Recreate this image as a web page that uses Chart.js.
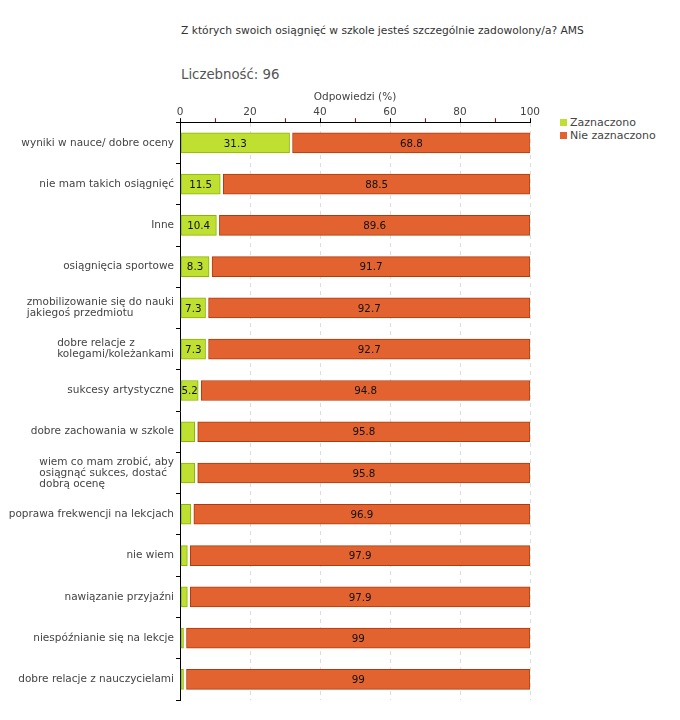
<!DOCTYPE html>
<html>
<head>
<meta charset="utf-8">
<script src="https://cdn.jsdelivr.net/npm/chart.js@4"></script>
<style>
    body { margin: 0; background: #fff; font-family: "DejaVu Sans", Verdana, sans-serif; }
    #wrap { position: relative; width: 680px; height: 720px; }
    #title { position: absolute; left: 181px; top: 24px; font-size: 10.7px; color: #333; }
    #count { position: absolute; left: 181px; top: 67px; font-size: 13.3px; color: #555; }
    #legend { position: absolute; left: 560px; top: 116px; font-size: 11px; color: #444; line-height: 13px; }
    #legend span { display: inline-block; width: 7px; height: 7px; margin-right: 3px; }
    canvas { position: absolute; left: 0; top: 0; }
</style>
</head>
<body>
<div id="wrap">
    <div id="title">Z których swoich osiągnięć w szkole jesteś szczególnie zadowolony/a? AMS</div>
    <div id="count">Liczebność: 96</div>
    <div id="legend">
        <div><span style="background:#bfe030"></span>Zaznaczono</div>
        <div><span style="background:#e2632f"></span>Nie zaznaczono</div>
    </div>
    <canvas id="chart" width="680" height="720"></canvas>
</div>
<script>
const categories = [
    "wyniki w nauce/ dobre oceny",
    "nie mam takich osiągnięć",
    "Inne",
    "osiągnięcia sportowe",
    ["zmobilizowanie się do nauki", "jakiegoś przedmiotu"],
    ["dobre relacje z", "kolegami/koleżankami"],
    "sukcesy artystyczne",
    "dobre zachowania w szkole",
    ["wiem co mam zrobić, aby", "osiągnąć sukces, dostać", "dobrą ocenę"],
    "poprawa frekwencji na lekcjach",
    "nie wiem",
    "nawiązanie przyjaźni",
    "niespóźnianie się na lekcje",
    "dobre relacje z nauczycielami"
];
const zaznaczono = [31.3, 11.5, 10.4, 8.3, 7.3, 7.3, 5.2, 4.2, 4.2, 3.1, 2.1, 2.1, 1.0, 1.0];
const nieZaznaczono = [68.8, 88.5, 89.6, 91.7, 92.7, 92.7, 94.8, 95.8, 95.8, 96.9, 97.9, 97.9, 99, 99];
const seriesNames = ["Zaznaczono", "Nie zaznaczono"];

const FONT = '"DejaVu Sans", Verdana, sans-serif';

// small white gap between the two stacked pieces
const barGap = {
    id: "barGap",
    beforeDatasetsDraw(chart) {
        const x = chart.scales.x;
        chart.getDatasetMeta(0).data.forEach((bar) => { bar.base = x.getPixelForValue(0) + 1; });
        chart.getDatasetMeta(1).data.forEach((bar, i) => { bar.base = x.getPixelForValue(zaznaczono[i]) + 3; });
    }
};

const barValues = {
    id: "barValues",
    afterDatasetsDraw(chart) {
        const ctx = chart.ctx;
        ctx.save();
        ctx.font = "10.3px " + FONT;
        ctx.fillStyle = "#111";
        ctx.textAlign = "center";
        ctx.textBaseline = "middle";
        chart.data.datasets.forEach((ds, d) => {
            chart.getDatasetMeta(d).data.forEach((bar, i) => {
                const v = ds.data[i];
                if (d === 0 && v <= 5) return;
                ctx.fillText(String(v), (bar.x + bar.base) / 2, bar.y + 1);
            });
        });
        ctx.restore();
    }
};

// category labels: block right aligned, lines left aligned
const catLabels = {
    id: "catLabels",
    afterDraw(chart) {
        const ctx = chart.ctx;
        const y = chart.scales.y;
        const right = y.right - 6;
        ctx.save();
        ctx.font = "10.5px " + FONT;
        ctx.fillStyle = "#444";
        ctx.textAlign = "left";
        ctx.textBaseline = "middle";
        categories.forEach((label, i) => {
            const lines = Array.isArray(label) ? label : [label];
            const w = Math.max(...lines.map((l) => ctx.measureText(l).width));
            const top = y.getPixelForTick(i) - (lines.length - 1) * 11 / 2;
            lines.forEach((l, k) => ctx.fillText(l, right - w, top + k * 11));
        });
        ctx.restore();
    }
};

new Chart(document.getElementById("chart"), {
    type: "bar",
    data: {
        labels: categories,
        datasets: [{
            label: seriesNames[0],
            data: zaznaczono,
            backgroundColor: "#bfe030",
            borderColor: "#8cb400",
            borderWidth: 1,
            borderSkipped: false,
            barThickness: 20
        }, {
            label: seriesNames[1],
            data: nieZaznaczono,
            backgroundColor: "#e2632f",
            borderColor: "#b03a08",
            borderWidth: 1,
            borderSkipped: false,
            barThickness: 20
        }]
    },
    options: {
        indexAxis: "y",
        responsive: false,
        animation: false,
        layout: { padding: { top: 91, right: 150, bottom: 20, left: 0 } },
        plugins: { legend: { display: false }, tooltip: { enabled: false } },
        scales: {
            x: {
                position: "top",
                stacked: true,
                min: 0,
                max: 100,
                title: {
                    display: true,
                    text: "Odpowiedzi (%)",
                    color: "#444",
                    font: { family: FONT, size: 10.5 },
                    padding: { top: 0, bottom: 2 }
                },
                ticks: {
                    stepSize: 10,
                    autoSkip: false,
                    maxRotation: 0,
                    padding: 0,
                    color: "#444",
                    font: { family: FONT, size: 10.5 },
                    callback: (v) => (v % 20 === 0 ? v : "")
                },
                grid: {
                    drawOnChartArea: true,
                    tickLength: 4,
                    color: (c) => (c.tick && c.tick.value % 20 === 0 && c.tick.value > 0 ? "#dddddd" : "rgba(0,0,0,0)"),
                    tickColor: (c) => (c.tick && c.tick.value % 20 === 0 ? "#000" : "#d00000")
                },
                border: { display: true, color: "#000", width: 1, dash: [4, 4] }
            },
            y: {
                stacked: true,
                afterFit: (scale) => { scale.width = 180; },
                ticks: { display: false },
                grid: { drawOnChartArea: false, tickLength: 4, tickColor: "#000" },
                border: { display: true, color: "#000", width: 1 }
            }
        }
    },
    plugins: [barGap, barValues, catLabels]
});
</script>
</body>
</html>
